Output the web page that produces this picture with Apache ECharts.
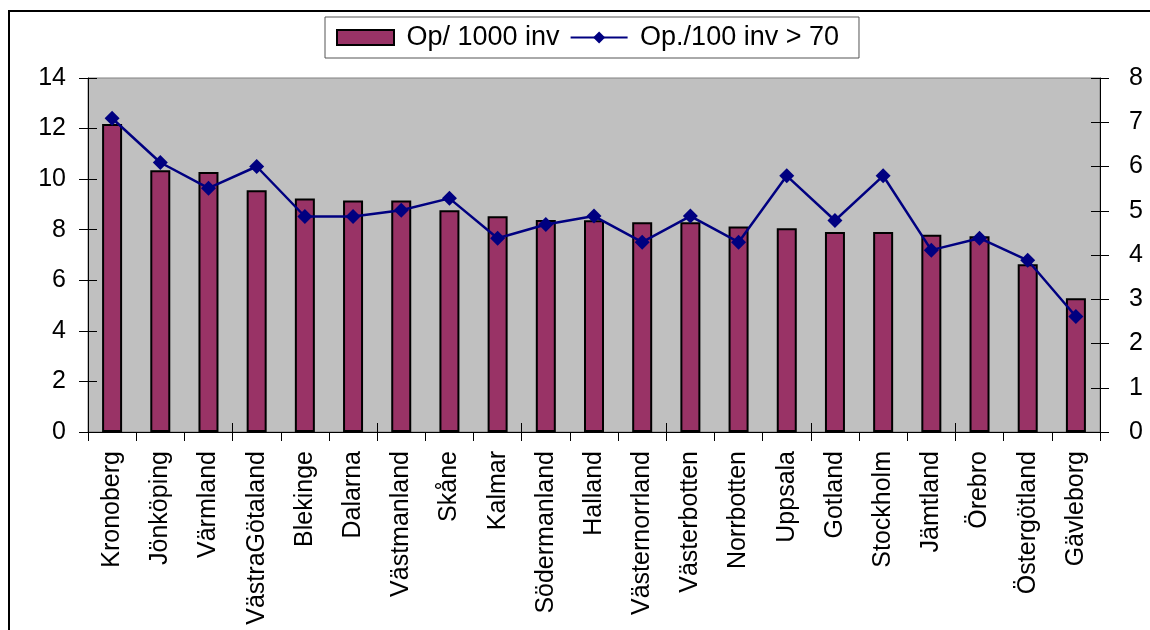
<!DOCTYPE html>
<html>
<head>
<meta charset="utf-8">
<script src="https://cdn.jsdelivr.net/npm/echarts@6/dist/echarts.min.js"></script>
<style>html,body{margin:0;padding:0;background:#fff;overflow:hidden;}#c{width:1150px;height:630px;}</style>
</head>
<body>
<div id="c"></div>
<script>
const categories = ['Kronoberg','Jönköping','Värmland','VästraGötaland','Blekinge','Dalarna','Västmanland','Skåne','Kalmar','Södermanland','Halland','Västernorrland','Västerbotten','Norrbotten','Uppsala','Gotland','Stockholm','Jämtland','Örebro','Östergötland','Gävleborg'];
const opPer1000 = [12.18,10.35,10.28,9.56,9.23,9.16,9.16,8.77,8.53,8.38,8.37,8.30,8.30,8.13,8.06,7.91,7.91,7.80,7.74,6.63,5.29];
const opPer100Over70 = [7.09,6.09,5.51,6.00,4.87,4.87,5.01,5.28,4.38,4.69,4.88,4.29,4.88,4.29,5.79,4.78,5.79,4.11,4.38,3.88,2.61];
const seriesNames = ['Op/ 1000 inv','Op./100 inv > 70'];

const FONT = 'Liberation Sans, Arial, sans-serif';
const chart = echarts.init(document.getElementById('c'), null, {renderer:'canvas'});
const hidden = {show:false};
function yCfg(pos, max, interval, inside, labels, margin) {
  return {
    type:'value', position:pos, min:0, max:max, interval:interval,
    axisLine:{show:!inside, lineStyle:{color:'#000', width:1}},
    axisTick:{show:true, inside:inside, length:9, lineStyle:{color:'#000'}},
    axisLabel:labels ? {show:true, color:'#000', fontSize:25, fontFamily:FONT, margin:margin} : {show:false},
    splitLine:{show:false}
  };
}
chart.setOption({
  animation:false,
  backgroundColor:'#fff',
  graphic:[
    {type:'line', shape:{x1:9, y1:11, x2:1150, y2:11}, style:{stroke:'#000', lineWidth:2}, silent:true},
    {type:'line', shape:{x1:9, y1:10, x2:9, y2:630}, style:{stroke:'#000', lineWidth:2}, silent:true}
  ],
  legend:{
    left:325, top:17,
    padding:[7,20,7,11],
    backgroundColor:'#fff', borderColor:'#555', borderWidth:1,
    itemWidth:57, itemHeight:15, itemGap:10,
    textStyle:{fontSize:27, fontFamily:FONT, color:'#000'},
    formatter: n => ' ' + n,
    data:[
      {name:seriesNames[0], icon:'rect', itemStyle:{color:'#993366', borderColor:'#000', borderWidth:2}},
      {name:seriesNames[1]}
    ]
  },
  grid:{left:88, right:50, top:78, bottom:198, show:true, backgroundColor:'#c0c0c0', borderColor:'#808080', borderWidth:1},
  xAxis:[
    {type:'category', data:categories, position:'bottom',
     axisLine:{lineStyle:{color:'#000', width:1}},
     axisTick:{show:true, length:9, lineStyle:{color:'#000'}},
     axisLabel:{rotate:90, interval:0, color:'#000', fontSize:25, fontFamily:FONT, margin:19}},
    {type:'category', data:categories, position:'bottom',
     axisLine:hidden, axisTick:{show:true, inside:true, length:9, lineStyle:{color:'#000'}},
     axisLabel:hidden, splitLine:hidden}
  ],
  yAxis:[
    yCfg('left', 14, 2, false, true, 22),
    yCfg('right', 8, 1, false, true, 29),
    yCfg('left', 14, 2, true, false, 0),
    yCfg('right', 8, 1, true, false, 0)
  ],
  series:[
    {name:seriesNames[0], type:'bar', data:opPer1000, xAxisIndex:0, yAxisIndex:0, barWidth:20,
     itemStyle:{color:'#993366', borderColor:'#000', borderWidth:2}},
    {name:seriesNames[1], type:'line', data:opPer100Over70, xAxisIndex:0, yAxisIndex:1,
     symbol:'diamond', symbolSize:15, lineStyle:{color:'#000080', width:2.5},
     itemStyle:{color:'#000080'}}
  ]
});
</script>
</body>
</html>
